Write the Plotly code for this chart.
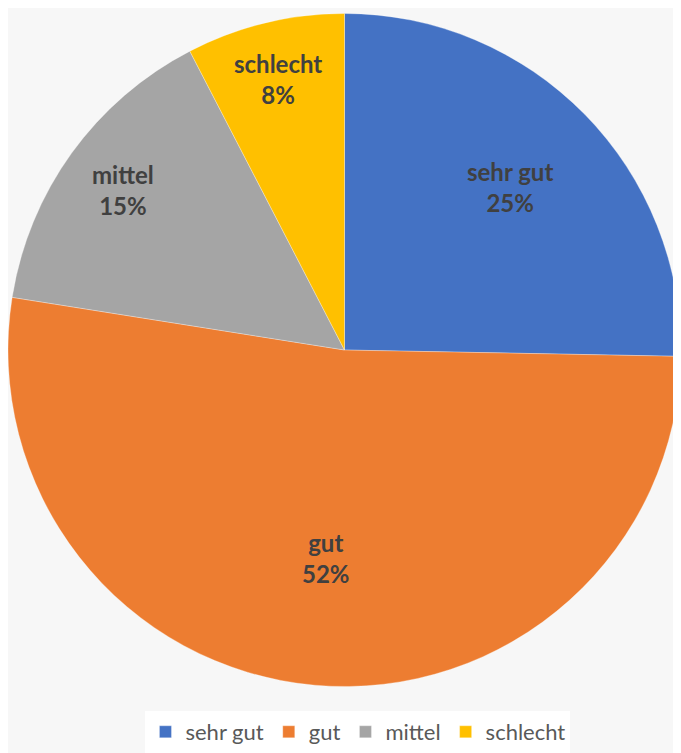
import math
import plotly.graph_objects as go

categories = ["sehr gut", "gut", "mittel", "schlecht"]
values = [25.3, 52.2, 14.9, 7.6]
colors = ["#4472C4", "#ED7D31", "#A5A5A5", "#FFC000"]

# label placement (fraction of radius along each slice's mid-angle)
label_radius = [0.69, 0.62, 0.81, 0.83]

W, H = 673, 745
CX, CY, R = 336.5, 342.0, 336.5  # pie centre / radius in figure pixels

fig = go.Figure(go.Pie(
    labels=categories,
    values=values,
    sort=False,
    direction="clockwise",
    rotation=0,
    marker=dict(colors=colors, line=dict(color="rgba(255,255,255,0.6)", width=0.5)),
    textinfo="none",
    domain=dict(x=[0, 1], y=[1 - (CY + R) / H, 1 - (CY - R) / H]),
    hoverinfo="label+percent",
))

total = sum(values)
cum = 0.0
annotations = []
for cat, v, f in zip(categories, values, label_radius):
    mid = (cum + v / 2) / total * 2 * math.pi
    cum += v
    px = CX + f * R * math.sin(mid)
    py = CY - f * R * math.cos(mid)
    pct = round(v / total * 100)
    annotations.append(dict(
        x=px / W, y=1 - py / H, xref="paper", yref="paper",
        text=f"<b>{cat}</b><br><b>{pct}%</b>", showarrow=False,
        font=dict(family="Lato, Open Sans, sans-serif", size=24, color="#404040"),
        xanchor="center", yanchor="middle", align="center",
    ))

fig.update_layout(
    width=W, height=H,
    margin=dict(l=0, r=0, t=0, b=0, autoexpand=False),
    paper_bgcolor="#f7f7f7",
    plot_bgcolor="#f7f7f7",
    showlegend=True,
    legend=dict(
        orientation="h", x=0.52, xanchor="center", y=0.0, yanchor="bottom",
        bgcolor="#ffffff",
        font=dict(family="Lato, Open Sans, sans-serif", size=22, color="#595959"),
        itemwidth=30,
    ),
    annotations=annotations,
)

fig.write_html("out.html")
